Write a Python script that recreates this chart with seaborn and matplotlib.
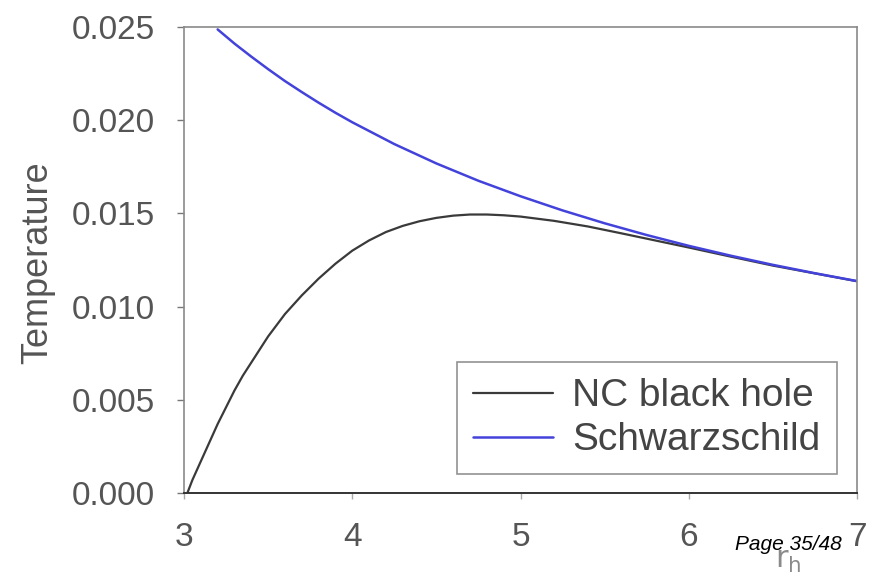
import matplotlib
matplotlib.use("Agg")
import matplotlib.pyplot as plt
import seaborn as sns
import pandas as pd

# Horizon radius r_h and Hawking temperature for each black hole model
nc_r = [3.02, 3.05, 3.1, 3.15, 3.2, 3.25, 3.3, 3.35, 3.4, 3.45, 3.5, 3.6,
        3.7, 3.8, 3.9, 4.0, 4.1, 4.2, 4.3, 4.4, 4.5, 4.6, 4.7, 4.8, 4.9,
        5.0, 5.2, 5.4, 5.6, 5.8, 6.0, 6.25, 6.5, 6.75, 7.0]
nc_temp = [0.0000, 0.0007, 0.0017, 0.0027, 0.0037, 0.0046, 0.0055, 0.0063,
           0.0070, 0.0077, 0.0084, 0.0096, 0.0106, 0.0115, 0.0123, 0.0130,
           0.01355, 0.0140, 0.01433, 0.01458, 0.01476, 0.01488, 0.01494,
           0.01494, 0.01490, 0.01483, 0.0146, 0.0143, 0.01393, 0.01355,
           0.01317, 0.01268, 0.0122, 0.01178, 0.01136]

schw_r = [3.2, 3.3, 3.4, 3.5, 3.6, 3.7, 3.8, 3.9, 4.0, 4.25, 4.5, 4.75, 5.0,
          5.25, 5.5, 5.75, 6.0, 6.25, 6.5, 6.75, 7.0]
schw_temp = [0.02487, 0.02411, 0.02341, 0.02274, 0.02210, 0.02151, 0.02094,
             0.02040, 0.01989, 0.01872, 0.01768, 0.01675, 0.01592, 0.01516,
             0.01447, 0.01384, 0.01326, 0.01273, 0.01224, 0.01179, 0.01137]

x_ticks = [3, 4, 5, 6, 7]
y_ticks = [0.000, 0.005, 0.010, 0.015, 0.020, 0.025]
y_tick_labels = ["0.000", "0.005", "0.010", "0.015", "0.020", "0.025"]

sns.set_theme(style="white")
plt.rcParams["font.family"] = ["Liberation Sans", "DejaVu Sans"]

fig = plt.figure(figsize=(8.77, 5.81), dpi=100)
ax = fig.add_axes([184 / 877, 1 - 493 / 581, 673 / 877, 466 / 581])

nc_df = pd.DataFrame({"r": nc_r, "T": nc_temp})
schw_df = pd.DataFrame({"r": schw_r, "T": schw_temp})

sns.lineplot(data=nc_df, x="r", y="T", ax=ax, color="#3a3a3a", linewidth=1.6,
             label="NC black hole", sort=False)
sns.lineplot(data=schw_df, x="r", y="T", ax=ax, color="#4343dc", linewidth=1.8,
             label="Schwarzschild", sort=False)

ax.set_xlim(3, 7)
ax.set_ylim(0, 0.025)
ax.set_xticks(x_ticks)
ax.set_xticklabels([str(t) for t in x_ticks])
ax.set_yticks(y_ticks)
ax.set_yticklabels(y_tick_labels)

label_color = "#555555"
ax.tick_params(axis="y", direction="out", length=5, width=1, color="#777777",
               labelsize=24, labelcolor=label_color, pad=16, left=True)
ax.tick_params(axis="x", direction="out", length=4, width=1, color="#aaaaaa",
               labelsize=24, labelcolor=label_color, pad=17, bottom=True)

for side in ["left", "top", "right"]:
    ax.spines[side].set_color("#8a8a8a")
    ax.spines[side].set_linewidth(1.2)
ax.spines["bottom"].set_color("#333333")
ax.spines["bottom"].set_linewidth(1.4)

ax.set_xlabel("")
ax.set_ylabel("")
fig.text(38 / 877, 1 - 263 / 581, "Temperature", fontsize=26, color=label_color,
         rotation=90, ha="center", va="center")

fig.text(788 / 877, 1 - 560 / 581, r"$\mathrm{r}_\mathrm{h}$", fontsize=22,
         color="#8a8a8a", ha="center", va="center")
fig.text(788 / 877, 1 - 545 / 581, "Page 35/48", fontsize=15, style="italic",
         color="black", ha="center", va="center")

leg = ax.legend(loc="upper left", bbox_to_anchor=((457 - 184) / 673, (493 - 362) / 466),
                fontsize=28, frameon=True, fancybox=False, handlelength=2.05,
                handletextpad=0.5, borderpad=0.42, labelspacing=0.2,
                borderaxespad=0)
leg.get_frame().set_edgecolor("#777777")
leg.get_frame().set_linewidth(1.2)
for t in leg.get_texts():
    t.set_color("#444444")

fig.savefig("out.png", dpi=100, facecolor="white")
